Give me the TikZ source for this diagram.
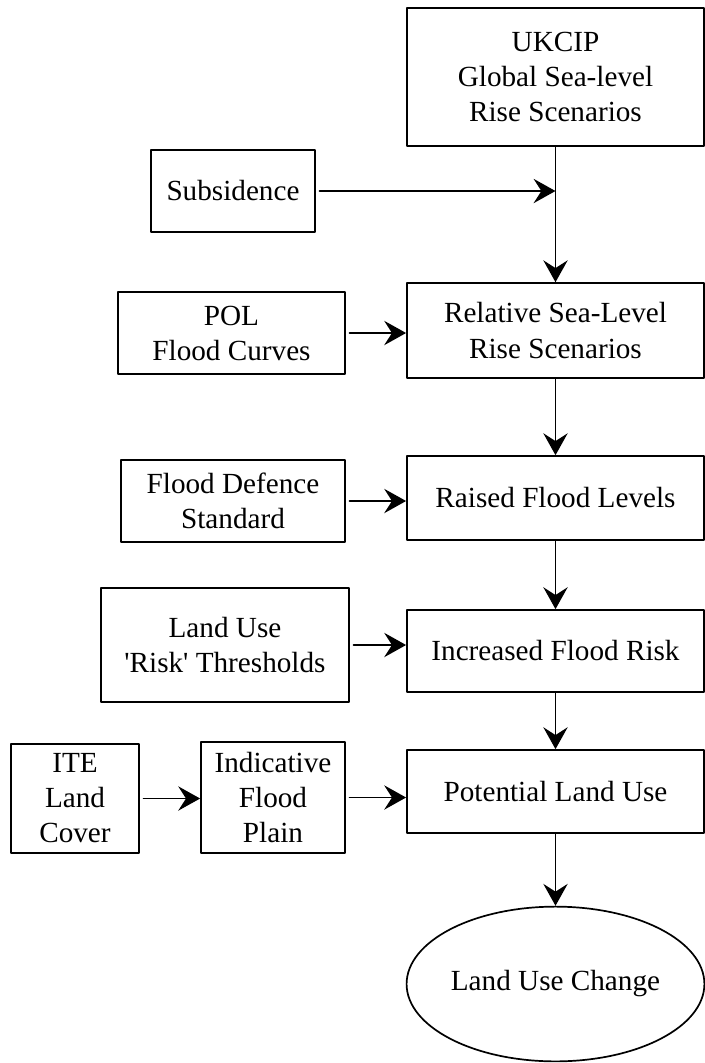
\documentclass[tikz,border=0pt]{standalone}
\usepackage{fontspec}
\setmainfont{Liberation Serif}
\usetikzlibrary{arrows.meta,shapes.geometric}

\begin{document}
\begin{tikzpicture}[line cap=round,line join=round,>={Stealth[length=9pt,width=10pt,inset=3.2pt]},x=0.411pt,y=-0.411pt,
		box/.style={draw,line width=0.7pt,align=center,inner sep=0pt,font=\fontsize{12}{14.4}\selectfont},
		flow/.style={->,line width=0.7pt},
		feed/.style={->,line width=0.7pt,shorten <=1.5pt}]
		\clip(0,0) rectangle (705,1063);
		\node[box,minimum width=122.1pt,minimum height=56.7pt] (ukcip) at (555.5,77) {UKCIP\\Global Sea-level\\Rise Scenarios};
		\node[box,minimum width=67.4pt,minimum height=33.7pt] (subs) at (233,191) {Subsidence};
		\node[box,minimum width=122.1pt,minimum height=39pt] (rel) at (555.5,330.5) {Relative Sea-Level\\Rise Scenarios};
		\node[box,minimum width=93.3pt,minimum height=33.7pt] (pol) at (231.5,333) {POL\\Flood Curves};
		\node[box,minimum width=122.1pt,minimum height=34.5pt] (raised) at (555.5,498) {Raised Flood Levels};
		\node[box,minimum width=92.1pt,minimum height=33.7pt] (fds) at (233,501) {Flood Defence\\Standard};
		\node[box,minimum width=122.1pt,minimum height=33.7pt] (incr) at (555.5,651) {Increased Flood Risk};
		\node[box,minimum width=101.9pt,minimum height=46.9pt] (lur) at (225,645) {Land Use\\\textquotesingle Risk\textquotesingle{} Thresholds};
		\node[box,minimum width=52.6pt,minimum height=44.8pt] (ite) at (75,798.5) {ITE\\Land\\Cover};
		\node[box,minimum width=59.2pt,minimum height=45.6pt] (ifp) at (273,797.5) {Indicative\\Flood\\Plain};
		\node[box,minimum width=122.1pt,minimum height=34.1pt] (potl) at (555.5,791.5) {Potential Land Use};
		\node[box,ellipse,minimum width=122.4pt,minimum height=63.6pt] (luc) at (555.5,984) {Land Use Change};
		\coordinate (jn) at (ukcip.south |- subs.east);
		\draw[feed] (subs.east) -- (jn);
		\draw[flow] (ukcip.south) -- (rel.north);
		\draw[feed] (pol.east) -- (pol.east -| rel.west);
		\draw[flow] (rel.south) -- (raised.north);
		\draw[feed] (fds.east) -- (fds.east -| raised.west);
		\draw[flow] (raised.south) -- (incr.north);
		\draw[feed] (lur.east) -- (lur.east -| incr.west);
		\draw[flow] (incr.south) -- (potl.north);
		\draw[feed] (ite.east) -- (ite.east -| ifp.west);
		\draw[feed] (ifp.east) -- (ifp.east -| potl.west);
		\draw[flow] (potl.south) -- (luc.north);
	\end{tikzpicture}
\end{document}
